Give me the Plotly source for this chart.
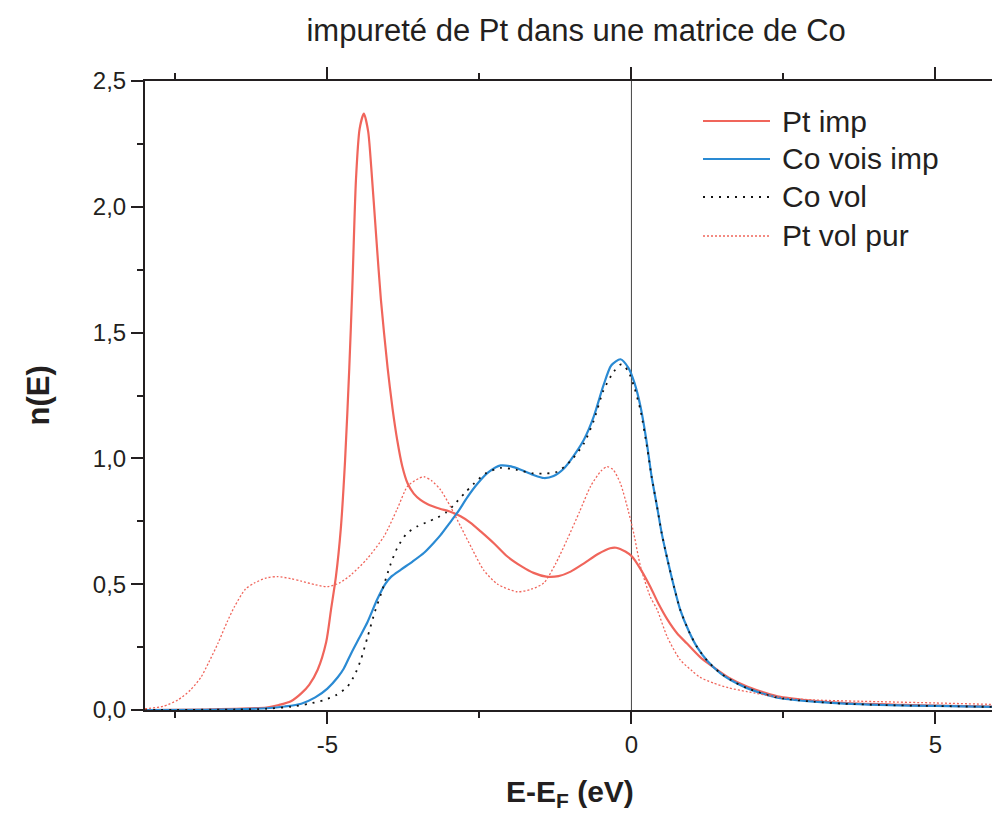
import plotly.graph_objects as go

# Local densities of states n(E) versus E - E_F (eV)
pt_imp_x = [-8.0, -7.0, -6.5, -6.0, -5.8, -5.6, -5.43, -5.3, -5.16, -5.02, -4.94, -4.86,
            -4.78, -4.71, -4.64, -4.59, -4.53, -4.47, -4.40, -4.33, -4.28, -4.20, -4.12,
            -4.01, -3.93, -3.85, -3.77, -3.68, -3.58, -3.47, -3.35, -3.15, -3.0, -2.81,
            -2.65, -2.48, -2.25, -2.04, -1.80, -1.61, -1.40, -1.20, -1.00, -0.78, -0.55,
            -0.35, -0.25, -0.10, 0.01, 0.15, 0.31, 0.45, 0.59, 0.75, 0.91, 1.13, 1.35,
            1.60, 1.90, 2.2, 2.45, 3.0, 3.54, 4.5, 5.0, 6.0]
pt_imp_y = [0.0, 0.002, 0.005, 0.01, 0.02, 0.035, 0.066, 0.10, 0.16, 0.27, 0.40, 0.53,
            0.72, 0.99, 1.36, 1.68, 2.11, 2.31, 2.37, 2.30, 2.16, 1.89, 1.63,
            1.36, 1.20, 1.07, 0.97, 0.90, 0.86, 0.835, 0.818, 0.80, 0.79, 0.77,
            0.745, 0.71, 0.66, 0.61, 0.57, 0.545, 0.53, 0.532, 0.55, 0.583, 0.62,
            0.643, 0.645, 0.63, 0.61, 0.56, 0.49, 0.42, 0.36, 0.305, 0.265, 0.21, 0.17,
            0.128, 0.093, 0.068, 0.052, 0.036, 0.027, 0.02, 0.017, 0.013]

co_vois_x = [-8.0, -7.0, -6.5, -6.0, -5.7, -5.43, -5.2, -5.0, -4.83, -4.73, -4.61, -4.48,
             -4.34, -4.18, -4.05, -3.95, -3.79, -3.6, -3.41, -3.25, -3.14, -3.0, -2.86,
             -2.70, -2.53, -2.35, -2.15, -1.98, -1.82, -1.62, -1.44, -1.28, -1.11, -0.95,
             -0.78, -0.62, -0.46, -0.33, -0.18, -0.05, 0.05, 0.15, 0.26, 0.33, 0.42, 0.50,
             0.6, 0.7, 0.8, 0.95, 1.08, 1.25, 1.46, 1.7, 1.9, 2.2, 2.45, 3.0, 3.5, 4.09,
             5.0, 6.0]
co_vois_y = [0.0, 0.001, 0.003, 0.007, 0.014, 0.025, 0.05, 0.085, 0.13, 0.165, 0.225, 0.285,
             0.35, 0.44, 0.50, 0.53, 0.558, 0.59, 0.625, 0.665, 0.695, 0.74, 0.785,
             0.845, 0.90, 0.945, 0.972, 0.968, 0.955, 0.935, 0.922, 0.93, 0.96, 1.01,
             1.075, 1.166, 1.29, 1.37, 1.394, 1.36, 1.30, 1.205, 1.05, 0.93, 0.81, 0.70,
             0.59, 0.49, 0.40, 0.31, 0.25, 0.195, 0.147, 0.11, 0.087, 0.062, 0.047, 0.033,
             0.025, 0.02, 0.016, 0.012]

co_vol_x = [-8.0, -6.5, -6.0, -5.6, -5.3, -5.05, -4.85, -4.67, -4.55, -4.45, -4.34, -4.22,
            -4.12, -3.96, -3.85, -3.70, -3.52, -3.35, -3.19, -3.05, -2.92, -2.75, -2.59,
            -2.40, -2.15, -1.9, -1.61, -1.40, -1.22, -1.0, -0.78, -0.62, -0.46, -0.29,
            -0.16, -0.05, 0.05, 0.15, 0.26, 0.33, 0.42, 0.50, 0.6, 0.7, 0.8, 0.95, 1.08,
            1.25, 1.46, 1.7, 1.9, 2.2, 2.45, 3.0, 3.5, 4.09, 5.0, 6.0]
co_vol_y = [0.0, 0.002, 0.005, 0.013, 0.025, 0.04, 0.06, 0.093, 0.14, 0.20, 0.29, 0.39,
            0.46, 0.58, 0.645, 0.70, 0.73, 0.748, 0.765, 0.785, 0.815, 0.86, 0.90,
            0.94, 0.962, 0.955, 0.94, 0.94, 0.947, 0.99, 1.06, 1.15, 1.27, 1.345,
            1.375, 1.345, 1.28, 1.19, 1.04, 0.93, 0.81, 0.70, 0.59, 0.49, 0.40, 0.31, 0.25,
            0.195, 0.147, 0.11, 0.087, 0.062, 0.047, 0.033, 0.025, 0.02, 0.016, 0.012]

pt_vol_x = [-8.0, -7.7, -7.46, -7.25, -7.08, -6.95, -6.8, -6.65, -6.53, -6.35, -6.2, -6.0,
            -5.82, -5.6, -5.43, -5.2, -5.0, -4.8, -4.6, -4.35, -4.07, -3.85, -3.68, -3.5,
            -3.41, -3.28, -3.14, -2.98, -2.81, -2.62, -2.43, -2.2, -1.88, -1.65, -1.44,
            -1.25, -1.06, -0.85, -0.67, -0.50, -0.40, -0.30, -0.18, -0.05, 0.04, 0.15, 0.31,
            0.42, 0.59, 0.8, 1.0, 1.13, 1.35, 1.6, 1.9, 2.45, 3.0, 4.09, 5.0, 6.0]
pt_vol_y = [0.005, 0.015, 0.04, 0.08, 0.13, 0.19, 0.265, 0.35, 0.41, 0.48, 0.505, 0.525,
            0.53, 0.522, 0.512, 0.498, 0.49, 0.505, 0.54, 0.60, 0.69, 0.80, 0.89, 0.92,
            0.927, 0.91, 0.875, 0.81, 0.73, 0.64, 0.556, 0.50, 0.47, 0.48, 0.505,
            0.58, 0.676, 0.79, 0.89, 0.95, 0.967, 0.955, 0.90, 0.79, 0.70, 0.57, 0.45,
            0.40, 0.29, 0.2, 0.155, 0.13, 0.107, 0.088, 0.073, 0.05, 0.04, 0.033, 0.028, 0.022]

x_major = [-5, 0, 5]
x_major_text = ["-5", "0", "5"]
x_minor = [-7.5, -2.5, 2.5]

RED = "#F0655B"
BLUE = "#2A8AD3"
INK = "#231F20"
FONT = "Liberation Sans, Arial, sans-serif"

series = [
    ("Pt imp", pt_imp_x, pt_imp_y, dict(color=RED, width=2.2)),
    ("Co vois imp", co_vois_x, co_vois_y, dict(color=BLUE, width=2.2)),
    ("Co vol", co_vol_x, co_vol_y, dict(color="#111111", width=1.8, dash="2px,6px")),
    ("Pt vol pur", pt_vol_x, pt_vol_y, dict(color=RED, width=1.3, dash="2px,2px")),
]

fig = go.Figure()
for name, xs, ys, style in series:
    fig.add_trace(go.Scatter(x=xs, y=ys, mode="lines", name=name,
                             line=dict(shape="spline", smoothing=0.7, **style)))

# Fermi level marker
fig.add_shape(type="line", xref="x", yref="paper", x0=0, x1=0, y0=0, y1=1,
              line=dict(color="#444444", width=1), layer="below")

# Legend drawn inside the plot area, top right
legend_rows = [0.9364, 0.876, 0.8156, 0.7536]
for (name, _, _, style), yy in zip(series, legend_rows):
    fig.add_shape(type="line", xref="paper", yref="paper", x0=0.6588, x1=0.7379,
                  y0=yy, y1=yy, line=style)
    fig.add_annotation(xref="paper", yref="paper", x=0.7497, y=yy, text=name,
                       showarrow=False, xanchor="left", yanchor="middle",
                       font=dict(family=FONT, size=30, color=INK))

fig.add_annotation(xref="paper", yref="paper", x=-0.1263, y=0.5, text="<b>n(E)</b>",
                   textangle=-90, showarrow=False, xanchor="center", yanchor="middle",
                   font=dict(family=FONT, size=31, color=INK))
fig.add_annotation(xref="paper", yref="paper", x=0.502, y=-0.132,
                   text="<b>E-E<sub>F</sub> (eV)</b>", showarrow=False,
                   xanchor="center", yanchor="middle",
                   font=dict(family=FONT, size=30, color=INK))

fig.update_layout(
    width=992, height=816,
    margin=dict(l=145, r=0, t=81, b=106),
    paper_bgcolor="white", plot_bgcolor="white",
    showlegend=False,
    separators=",.",
    font=dict(family=FONT, color=INK, size=24),
    title=dict(text="impureté de Pt dans une matrice de Co", x=0.509, xref="paper",
               xanchor="center", y=0.963, yref="container", yanchor="middle",
               font=dict(family=FONT, size=31, color=INK)),
    xaxis=dict(range=[-8, 5.93], showgrid=False, zeroline=False,
               showline=True, linewidth=2, linecolor=INK, mirror="ticks",
               ticks="outside", ticklen=12, tickwidth=2, tickcolor=INK,
               tickmode="array", tickvals=x_major, ticktext=x_major_text,
               tickfont=dict(size=24, color=INK),
               minor=dict(tickmode="array", tickvals=x_minor, ticks="outside",
                          ticklen=6, tickwidth=2, tickcolor=INK)),
    yaxis=dict(range=[0, 2.5], showgrid=False, zeroline=False,
               showline=True, linewidth=2, linecolor=INK,
               ticks="outside", ticklen=12, tickwidth=2, tickcolor=INK,
               tick0=0, dtick=0.5, tickformat=".1f",
               tickfont=dict(size=24, color=INK),
               minor=dict(dtick=0.25, ticks="outside", ticklen=6, tickwidth=2,
                          tickcolor=INK)),
)

fig.write_html("out.html")
